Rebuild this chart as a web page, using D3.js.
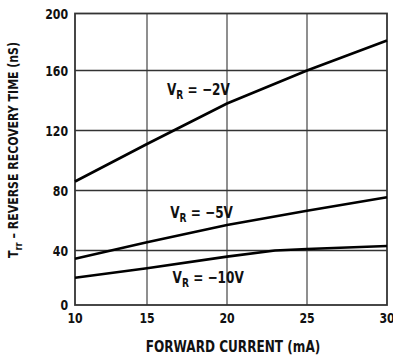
<!DOCTYPE html>
<html>
<head>
<meta charset="utf-8">
<script src="https://cdn.jsdelivr.net/npm/d3@7"></script>
<style>
  body { margin: 0; background: #fff; }
  svg text { font-family: "Liberation Sans Narrow", "DejaVu Sans Condensed", "Roboto", sans-serif; font-weight: bold; fill: #111; }
</style>
</head>
<body>
<div id="chart-container"></div>
<script>
//data
var xTicks = [10, 15, 20, 25, 30],
    yTicks = [0, 40, 80, 120, 160, 200];

var curveV2 = [[10, 86], [15, 111], [20, 138], [25, 160], [30, 181]],
    curveV5 = [[10, 34], [15, 45.5], [20, 57], [25, 66.5], [30, 75.5]],
    curveV10 = [[10, 20], [15, 27], [20, 35.5], [23, 40], [25, 41], [30, 43]];

var curveLabels = [
    {v: '\u22122V', x: 16.25, y: 143.5},
    {v: '\u22125V', x: 16.45, y: 62},
    {v: '\u221210V', x: 16.6, y: 16}
];

//sizes
var outerW = 393,
    outerH = 358,
    squeeze = 0.84; //the datasheet uses a condensed face

//scales (the scanned grid is slightly uneven, so piecewise)
var xScale = d3.scaleLinear().domain(xTicks).range([75, 147, 227, 307, 387]),
    yScale = d3.scaleLinear().domain(yTicks).range([305, 250.5, 190.5, 130.5, 70.5, 13.5]);

var svg = d3.select('#chart-container').append('svg')
    .attr('width', outerW)
    .attr('height', outerH);

function condensedText(x, y, size, extra) {
    return svg.append('text')
        .attr('transform', 'translate(' + x + ',' + y + ')' + (extra || '') + ' scale(' + squeeze + ',1)')
        .style('font-size', size + 'px');
}

//grid
svg.selectAll('.v-grid')
    .data(xTicks.slice(1, -1))
    .enter()
    .append('line')
    .attr('class', 'v-grid')
    .attr('x1', function(d) { return xScale(d); })
    .attr('x2', function(d) { return xScale(d); })
    .attr('y1', yScale(0))
    .attr('y2', yScale(200))
    .attr('stroke', '#6a6a6a')
    .attr('stroke-width', 1.5);

svg.selectAll('.h-grid')
    .data(yTicks.slice(1, -1))
    .enter()
    .append('line')
    .attr('class', 'h-grid')
    .attr('x1', xScale(10))
    .attr('x2', xScale(30))
    .attr('y1', function(d) { return yScale(d); })
    .attr('y2', function(d) { return yScale(d); })
    .attr('stroke', '#333')
    .attr('stroke-width', 1.3);

//frame
svg.append('rect')
    .attr('x', xScale(10))
    .attr('y', yScale(200))
    .attr('width', xScale(30) - xScale(10))
    .attr('height', yScale(0) - yScale(200))
    .attr('fill', 'none')
    .attr('stroke', '#333')
    .attr('stroke-width', 1.8);

//curves
var line = d3.line()
    .x(function(d) { return xScale(d[0]); })
    .y(function(d) { return yScale(d[1]); });

[curveV2, curveV5, curveV10].forEach(function(c) {
    svg.append('path')
        .attr('d', line(c))
        .attr('fill', 'none')
        .attr('stroke', '#000')
        .attr('stroke-width', 2.6);
});

//curve labels
curveLabels.forEach(function(l) {
    var t = condensedText(xScale(l.x), yScale(l.y), 16);
    t.append('tspan').text('V');
    t.append('tspan').attr('dy', 4).style('font-size', '12px').text('R');
    t.append('tspan').attr('dy', -4).text(' = ' + l.v);
});

//tick labels
xTicks.forEach(function(d) {
    condensedText(xScale(d), 323, 14.5)
        .attr('text-anchor', 'middle')
        .text(d);
});

yTicks.forEach(function(d) {
    condensedText(68, yScale(d) + 5, 14.5)
        .attr('text-anchor', 'end')
        .text(d);
});

//axis titles
condensedText(233, 352, 16)
    .attr('text-anchor', 'middle')
    .text('FORWARD CURRENT (mA)');

var yTitle = condensedText(18, 150, 14.5, ' rotate(-90)')
    .attr('text-anchor', 'middle');
yTitle.append('tspan').text('T');
yTitle.append('tspan').attr('dy', 4).style('font-size', '11px').text('rr');
yTitle.append('tspan').attr('dy', -4).text(' \u2013 REVERSE RECOVERY TIME (nS)');
</script>
</body>
</html>
